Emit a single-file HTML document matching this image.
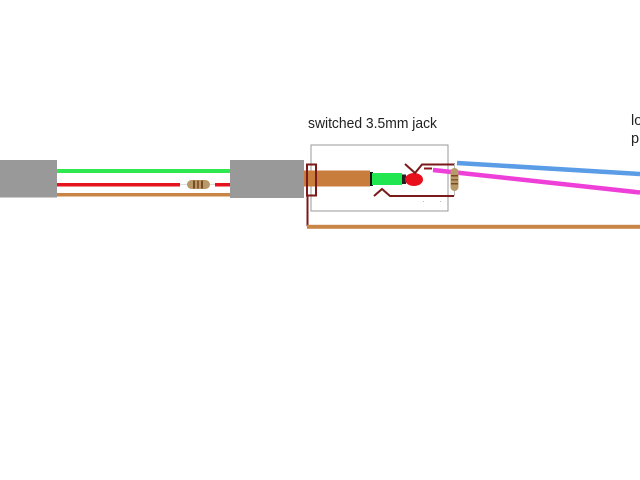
<!DOCTYPE html>
<html>
<head>
<meta charset="utf-8">
<style>
html,body{margin:0;padding:0;background:#fff;width:640px;height:480px;overflow:hidden}
svg{display:block}
text{font-family:"Liberation Sans",sans-serif;fill:#222}
</style>
</head>
<body>
<svg width="640" height="480" viewBox="0 0 640 480" xmlns="http://www.w3.org/2000/svg">
<rect width="640" height="480" fill="#fff"/>
<!-- cable ends -->
<rect x="0" y="160" width="57" height="37.500" fill="#999"/>
<rect x="230" y="160" width="74" height="38" fill="#999"/>
<!-- wires left -->
<rect x="57" y="169" width="173" height="4" fill="#2fe84f"/>
<rect x="57" y="183" width="123" height="3.500" fill="#e3141e"/>
<rect x="215" y="183" width="15" height="3.500" fill="#e3141e"/>
<rect x="57" y="193" width="173" height="3.500" fill="#c98545"/>
<!-- inline resistor -->
<line x1="180" y1="184.500" x2="215" y2="184.500" stroke="#ddd" stroke-width="1"/>
<rect x="187" y="180" width="23" height="9" rx="4.500" fill="#b89a68"/>
<rect x="193" y="180.500" width="2" height="8" fill="#7a4a26"/>
<rect x="197" y="180.500" width="2" height="8" fill="#8a5a30"/>
<rect x="201" y="180.500" width="2" height="8" fill="#7a4a26"/>
<!-- jack box -->
<rect x="311" y="145" width="137" height="66" fill="none" stroke="#999" stroke-width="1"/>
<text x="308" y="128" font-size="14.500" textLength="129" lengthAdjust="spacingAndGlyphs">switched 3.5mm jack</text>
<!-- plug -->
<rect x="304" y="170.500" width="66" height="16" fill="#c97d3c"/>
<rect x="370" y="172" width="3" height="14" fill="#111"/>
<rect x="372" y="173" width="30" height="12" fill="#22e650"/>
<rect x="402" y="174.500" width="4" height="9.500" fill="#222"/>
<ellipse cx="414" cy="179.500" rx="9" ry="6.500" fill="#e8101c"/>
<!-- sleeve contact -->
<rect x="307" y="164.500" width="9" height="31" fill="none" stroke="#7a1a1a" stroke-width="2"/>
<polyline points="307.500,196 307.500,226" fill="none" stroke="#7a1a1a" stroke-width="2"/>
<!-- tip / ring contacts -->
<polyline points="405,164 415,173 422,164.500 455,164.500" fill="none" stroke="#7a1a1a" stroke-width="2"/>
<polyline points="374,196 382,189 390,196 454,196" fill="none" stroke="#7a1a1a" stroke-width="2"/>
<line x1="424" y1="168.500" x2="432" y2="168.500" stroke="#8a1a1a" stroke-width="2"/>
<rect x="423" y="201" width="1" height="1" fill="#bbb"/>
<rect x="440" y="201" width="1" height="1" fill="#bbb"/>
<!-- output wires -->
<line x1="457" y1="163" x2="640" y2="174" stroke="#5a9ce6" stroke-width="4.500"/>
<line x1="433" y1="170" x2="640" y2="192.500" stroke="#ee3fd8" stroke-width="4.500"/>
<rect x="307" y="224.800" width="333" height="4" fill="#c98545"/>
<!-- vertical resistor -->
<line x1="454.500" y1="164" x2="454.500" y2="196" stroke="#bbb" stroke-width="1"/>
<rect x="450.500" y="168" width="8" height="23" rx="4" fill="#b89a68"/>
<rect x="451" y="175" width="7" height="1.500" fill="#7a4a26"/>
<rect x="451" y="179" width="7" height="1.500" fill="#8a5a30"/>
<rect x="451" y="183" width="7" height="1.500" fill="#7a4a26"/>
<!-- cut-off label -->
<text x="631" y="125" font-size="14.500">lo</text>
<text x="631" y="143" font-size="14.500">p</text>
</svg>
</body>
</html>
